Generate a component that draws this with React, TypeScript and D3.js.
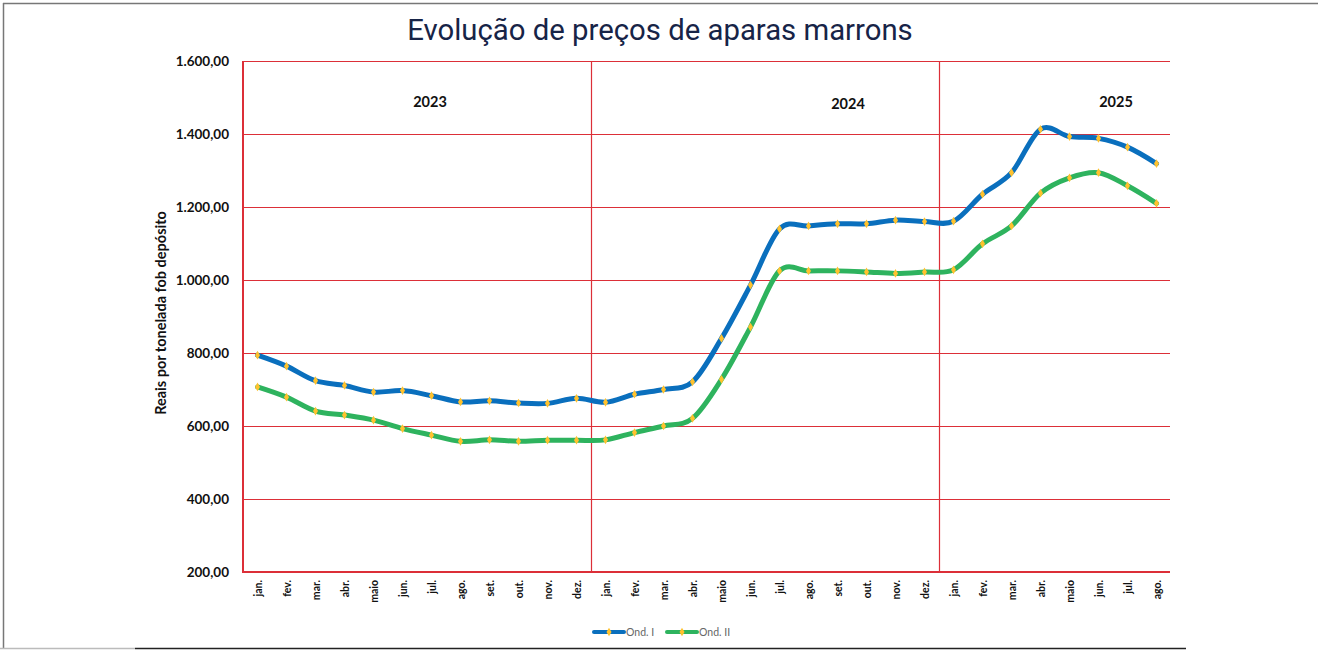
import * as d3 from "d3";

const months = [
  "jan.", "fev.", "mar.", "abr.", "maio", "jun.", "jul.", "ago.", "set.", "out.", "nov.", "dez.",
  "jan.", "fev.", "mar.", "abr.", "maio", "jun.", "jul.", "ago.", "set.", "out.", "nov.", "dez.",
  "jan.", "fev.", "mar.", "abr.", "maio", "jun.", "jul.", "ago.",
];

const ondI = [
  794, 764, 724, 711, 693, 697, 683, 666, 669, 663, 662, 676,
  665, 687, 700, 721, 840, 986, 1140, 1148, 1154, 1154, 1164, 1160,
  1161, 1235, 1294, 1413, 1393, 1388, 1364, 1319,
];

const ondII = [
  707, 679, 641, 630, 616, 593, 575, 558, 562, 558, 561, 561,
  562, 582, 600, 621, 728, 871, 1025, 1025, 1025, 1022, 1018, 1022,
  1028, 1099, 1148, 1238, 1280, 1294, 1258, 1210,
];

const years = [
  { label: "2023", start: 0, end: 12 },
  { label: "2024", start: 12, end: 24 },
  { label: "2025", start: 24, end: 32 },
];

const yTicks = [200, 400, 600, 800, 1000, 1200, 1400, 1600];

const series = [
  { name: "Ond. I", values: ondI, color: "#0a6fbd" },
  { name: "Ond. II", values: ondII, color: "#2eb35e" },
];

const W = 1318;
const H = 650;
const left = 243;
const right = 1171;
const top = 61;
const bottom = 572;

const fmt = (v: number) =>
  v.toLocaleString("pt-BR", { minimumFractionDigits: 2, maximumFractionDigits: 2 });

export default function App() {
  const idx = months.map((_, i) => i);
  const x = d3.scaleBand<number>().domain(idx).range([left, right]).padding(0);
  const cx = (i: number) => (x(i) ?? 0) + x.bandwidth() / 2;
  const y = d3.scaleLinear().domain([200, 1600]).range([bottom, top]);
  const red = "#dc2f38";

  const line = d3
    .line<number>()
    .x((_, i) => cx(i))
    .y((d) => y(d))
    .curve(d3.curveCardinal.tension(0));

  const diamond = d3.symbol(d3.symbolDiamond, 22)() ?? "";
  const labelFont = "Lato, 'Open Sans', sans-serif";

  return (
    <svg width={W} height={H} style={{ position: "absolute", left: 0, top: 0, background: "#fff" }}>
      {/* frame */}
      <line x1={3} y1={3.5} x2={W} y2={3.5} stroke="#777" strokeWidth={1.5} />
      <line x1={3.5} y1={3} x2={3.5} y2={648} stroke="#777" strokeWidth={1.5} />
      <line x1={0} y1={648.5} x2={135} y2={648.5} stroke="#bbb" strokeWidth={1.5} />
      <line x1={135} y1={648.5} x2={1186} y2={648.5} stroke="#222" strokeWidth={1.5} />

      <text
        x={660}
        y={40}
        textAnchor="middle"
        fontFamily="Roboto, sans-serif"
        fontSize={29.3}
        fill="#172447"
      >
        Evolução de preços de aparas marrons
      </text>

      {/* grid */}
      {yTicks.map((t) => (
        <line
          key={t}
          x1={left}
          x2={right - 1}
          y1={Math.round(y(t)) + 0.5}
          y2={Math.round(y(t)) + 0.5}
          stroke={red}
          strokeWidth={1.2}
        />
      ))}
      {years.slice(1).map((yr) => (
        <line
          key={yr.label}
          x1={Math.round(x(yr.start) ?? 0) + 0.5}
          x2={Math.round(x(yr.start) ?? 0) + 0.5}
          y1={top}
          y2={bottom}
          stroke={red}
          strokeWidth={1.2}
        />
      ))}
      <line x1={left} x2={left} y1={top} y2={bottom + 1} stroke={red} strokeWidth={2} />
      <line x1={left - 1} x2={right - 1} y1={bottom} y2={bottom} stroke={red} strokeWidth={2} />

      {/* y tick labels */}
      {yTicks.map((t) => (
        <text
          key={t}
          x={229}
          y={y(t) + 4.5}
          textAnchor="end"
          fontFamily={labelFont}
          fontWeight={700}
          fontSize={13.5}
          fill="#111"
        >
          {fmt(t)}
        </text>
      ))}

      <text
        transform={`translate(166,${313}) rotate(-90)`}
        textAnchor="middle"
        fontFamily={labelFont}
        fontWeight={700}
        fontSize={14.5}
        fill="#111"
      >
        Reais por tonelada fob depósito
      </text>

      {/* x labels */}
      {months.map((m, i) => (
        <text
          key={i}
          transform={`translate(${cx(i) + 4},${580}) rotate(-90)`}
          textAnchor="end"
          fontFamily={labelFont}
          fontWeight={700}
          fontSize={10.5}
          fill="#111"
        >
          {m}
        </text>
      ))}

      {/* year labels */}
      <text x={430} y={107} textAnchor="middle" fontFamily={labelFont} fontWeight={700} fontSize={14.5} fill="#111">
        {years[0].label}
      </text>
      <text x={848} y={109} textAnchor="middle" fontFamily={labelFont} fontWeight={700} fontSize={14.5} fill="#111">
        {years[1].label}
      </text>
      <text x={1116} y={107} textAnchor="middle" fontFamily={labelFont} fontWeight={700} fontSize={14.5} fill="#111">
        {years[2].label}
      </text>

      {/* series */}
      {series.map((s) => (
        <g key={s.name}>
          <path d={line(s.values) ?? ""} fill="none" stroke={s.color} strokeWidth={5} strokeLinecap="round" />
          {s.values.map((v, i) => (
            <path key={i} d={diamond} transform={`translate(${cx(i)},${y(v)})`} fill="#ffc22e" />
          ))}
        </g>
      ))}

      {/* legend */}
      {series.map((s, i) => {
        const lx = 594 + i * 73;
        return (
          <g key={s.name}>
            <line x1={lx} x2={lx + 30} y1={632} y2={632} stroke={s.color} strokeWidth={4} strokeLinecap="round" />
            <path d={diamond} transform={`translate(${lx + 15},632)`} fill="#ffc22e" />
            <text x={lx + 32} y={635.5} fontFamily={labelFont} fontSize={10.5} fill="#666">
              {s.name}
            </text>
          </g>
        );
      })}
    </svg>
  );
}
